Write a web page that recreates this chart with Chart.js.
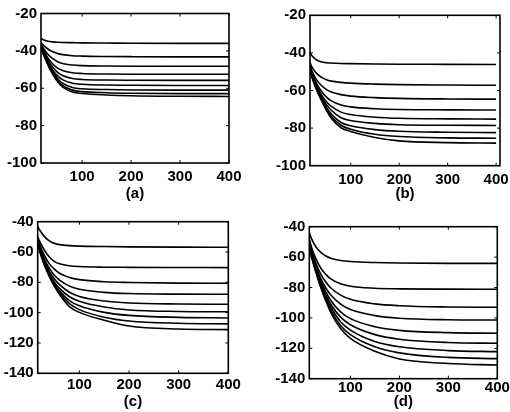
<!DOCTYPE html>
<html>
<head>
<meta charset="utf-8">
<script src="https://cdn.jsdelivr.net/npm/chart.js@4.4.0/dist/chart.umd.min.js"></script>
<style>
    html, body { margin: 0; padding: 0; background: #fff; }
    #wrap { position: relative; width: 510px; height: 412px; overflow: hidden; }
    canvas { position: absolute; }
</style>
</head>
<body>
<div id="wrap">
    <canvas id="chartA" width="255" height="206" style="left:0;top:0"></canvas>
    <canvas id="chartB" width="255" height="206" style="left:255px;top:0"></canvas>
    <canvas id="chartC" width="255" height="206" style="left:0;top:206px"></canvas>
    <canvas id="chartD" width="255" height="206" style="left:255px;top:206px"></canvas>
</div>
<script>
const xValues = [16, 20, 30, 40, 50, 60, 80, 100, 150, 200, 300, 400];
const xTicks = [100, 200, 300, 400];
const yTicksTop = [-100, -80, -60, -40, -20];
const yTicksBottom = [-140, -120, -100, -80, -60, -40];
const panelNames = ['(a)', '(b)', '(c)', '(d)'];

// panel (a)
const curvesA = [
    [-33.3, -33.9, -34.8, -35.2, -35.4, -35.5, -35.6, -35.7, -35.8, -35.9, -36.0, -36.0],
    [-35.5, -36.8, -39.0, -40.5, -41.4, -42.0, -42.6, -42.8, -43.0, -43.1, -43.2, -43.2],
    [-36.5, -38.3, -41.8, -44.2, -45.8, -46.8, -47.6, -47.9, -48.1, -48.2, -48.2, -48.2],
    [-37.0, -39.2, -43.8, -47.0, -49.2, -50.5, -51.7, -52.1, -52.4, -52.5, -52.5, -52.5],
    [-37.5, -39.8, -45.0, -48.8, -51.5, -53.2, -54.8, -55.3, -55.6, -55.7, -55.8, -55.8],
    [-38.0, -40.4, -46.0, -50.3, -53.4, -55.4, -57.3, -57.9, -58.3, -58.4, -58.5, -58.5],
    [-38.0, -40.6, -46.6, -51.3, -54.9, -57.3, -59.6, -60.3, -60.7, -60.9, -61.0, -61.0],
    [-38.5, -41.0, -47.1, -52.0, -55.8, -58.5, -61.0, -61.8, -62.4, -62.7, -62.9, -62.9],
    [-38.5, -41.2, -47.5, -52.5, -56.5, -59.3, -62.0, -62.8, -63.6, -64.0, -64.3, -64.4]
];

// panel (b)
const curvesB = [
    [-39.9, -41.5, -43.8, -44.8, -45.2, -45.4, -45.6, -45.7, -45.9, -46.0, -46.1, -46.2],
    [-45.0, -47.5, -51.0, -53.0, -54.3, -55.0, -55.7, -56.1, -56.6, -56.9, -57.1, -57.2],
    [-46.5, -49.5, -54.5, -57.5, -59.5, -60.8, -62.2, -63.0, -63.8, -64.2, -64.5, -64.6],
    [-47.0, -50.5, -56.5, -60.5, -63.5, -65.5, -67.7, -68.7, -69.7, -70.1, -70.3, -70.4],
    [-47.5, -51.0, -57.5, -62.5, -66.0, -68.5, -71.5, -72.8, -74.2, -74.8, -75.1, -75.2],
    [-48.0, -51.8, -58.5, -63.5, -67.5, -70.5, -74.5, -76.0, -77.5, -78.2, -78.5, -78.6],
    [-48.5, -52.3, -59.0, -64.5, -69.0, -72.5, -77.0, -78.8, -80.8, -81.7, -82.2, -82.4],
    [-48.5, -52.5, -59.5, -65.0, -70.0, -73.8, -78.5, -80.6, -83.3, -84.5, -85.2, -85.4],
    [-49.0, -53.0, -60.0, -65.5, -70.5, -74.8, -79.8, -81.8, -85.0, -86.8, -87.7, -88.0]
];

// panel (c)
const curvesC = [
    [-43.0, -45.5, -50.0, -52.8, -54.3, -55.1, -55.8, -56.1, -56.4, -56.6, -56.8, -56.9],
    [-50.0, -53.0, -59.0, -63.5, -66.3, -67.8, -69.1, -69.6, -70.0, -70.1, -70.2, -70.3],
    [-51.0, -55.0, -62.5, -68.0, -71.5, -74.0, -76.8, -78.2, -79.6, -80.1, -80.5, -80.6],
    [-52.0, -56.5, -65.0, -71.0, -75.5, -78.5, -82.5, -84.5, -86.6, -87.4, -87.8, -87.9],
    [-52.5, -57.5, -66.5, -73.0, -78.0, -81.5, -86.5, -89.3, -92.3, -93.6, -94.3, -94.5],
    [-53.0, -58.0, -67.5, -74.5, -80.0, -84.0, -89.5, -92.5, -96.3, -98.2, -99.2, -99.4],
    [-53.5, -58.5, -68.0, -75.5, -81.2, -85.8, -92.0, -95.5, -99.8, -101.8, -103.1, -103.5],
    [-53.5, -59.0, -68.5, -76.0, -82.0, -87.0, -94.0, -98.0, -103.0, -105.5, -107.0, -107.4],
    [-54.0, -59.5, -69.0, -76.5, -82.8, -88.0, -96.0, -99.8, -105.0, -108.8, -110.8, -111.2]
];

// panel (d)
const curvesD = [
    [-44.0, -47.5, -53.5, -57.0, -59.3, -60.7, -62.2, -62.9, -63.6, -63.9, -64.1, -64.1],
    [-48.0, -53.0, -61.5, -67.5, -71.5, -74.3, -77.6, -79.2, -80.5, -80.9, -81.1, -81.2],
    [-49.0, -54.5, -64.5, -71.5, -76.5, -80.3, -85.0, -87.8, -90.8, -92.0, -92.8, -93.0],
    [-50.0, -56.0, -66.5, -74.5, -80.5, -85.0, -91.0, -94.5, -98.5, -100.2, -101.2, -101.4],
    [-50.5, -57.0, -68.0, -76.5, -83.0, -88.5, -96.0, -100.5, -105.8, -108.2, -109.7, -110.1],
    [-51.0, -57.5, -69.0, -78.0, -85.0, -91.0, -99.5, -104.5, -111.0, -114.0, -116.2, -116.7],
    [-51.5, -58.0, -69.5, -79.0, -86.5, -93.0, -102.5, -108.0, -115.5, -119.0, -121.5, -122.2],
    [-52.0, -58.5, -70.0, -80.0, -88.0, -95.0, -105.0, -111.0, -119.0, -123.0, -126.0, -126.8],
    [-52.5, -59.0, -70.5, -80.5, -89.0, -96.5, -107.0, -113.5, -122.0, -127.0, -130.0, -131.0]
];

const fontSpec = { family: "'Liberation Sans', Arial, sans-serif", size: 15, weight: 'bold' };

// box around the plot plus small inward ticks on every side
const frameAndTicks = {
    id: 'frameAndTicks',
    afterDatasetsDraw(chart) {
        const { ctx, chartArea: a, scales: { x, y } } = chart;
        ctx.save();
        ctx.strokeStyle = '#000';
        ctx.lineWidth = 1;
        ctx.beginPath();
        x.ticks.forEach((t) => {
            const px = x.getPixelForValue(t.value);
            ctx.moveTo(px, a.bottom); ctx.lineTo(px, a.bottom - 3);
            ctx.moveTo(px, a.top); ctx.lineTo(px, a.top + 3);
        });
        y.ticks.forEach((t) => {
            const py = y.getPixelForValue(t.value);
            ctx.moveTo(a.left, py); ctx.lineTo(a.left + 3, py);
            ctx.moveTo(a.right, py); ctx.lineTo(a.right - 3, py);
        });
        ctx.stroke();
        ctx.lineWidth = 1.6;
        ctx.strokeRect(a.left, a.top, a.right - a.left, a.bottom - a.top);
        ctx.restore();
    }
};

// box: left axis width, top padding, right padding, bottom axis height
function makePanel(canvasId, curves, yTicks, name, xMax, box) {
    const ctx = document.getElementById(canvasId).getContext('2d');
    new Chart(ctx, {
        type: 'line',
        data: {
            datasets: curves.map((c) => ({
                data: xValues.map((xv, i) => ({ x: xv, y: c[i] })),
                borderColor: '#000',
                borderWidth: 1.6,
                pointRadius: 0,
                cubicInterpolationMode: 'monotone',
                fill: false
            }))
        },
        options: {
            responsive: false,
            devicePixelRatio: 1,
            animation: false,
            layout: { padding: { left: 0, top: box.top, right: box.right, bottom: 0 } },
            plugins: { legend: { display: false }, tooltip: { enabled: false } },
            scales: {
                x: {
                    type: 'linear',
                    min: 16,
                    max: xMax,
                    grid: { display: false, drawTicks: false },
                    border: { display: false },
                    ticks: { color: '#000', font: fontSpec, padding: box.labelGap, maxRotation: 0 },
                    afterBuildTicks: (scale) => { scale.ticks = xTicks.map((v) => ({ value: v })); },
                    afterFit: (scale) => {
                        scale.height = box.bottom;
                        scale.paddingLeft = 0;
                        scale.paddingRight = 0;
                    },
                    title: { display: true, text: name, color: '#000', font: fontSpec, padding: { top: 0, bottom: box.titlePad } }
                },
                y: {
                    min: yTicks[0],
                    max: yTicks[yTicks.length - 1],
                    grid: { display: false, drawTicks: false },
                    border: { display: false },
                    ticks: { color: '#000', font: fontSpec, padding: 4 },
                    afterBuildTicks: (scale) => { scale.ticks = yTicks.map((v) => ({ value: v })); },
                    afterFit: (scale) => {
                        scale.width = box.left;
                        scale.paddingTop = 0;
                        scale.paddingBottom = 0;
                    }
                }
            }
        },
        plugins: [frameAndTicks]
    });
}

window.addEventListener('DOMContentLoaded', () => {
    makePanel('chartA', curvesA, yTicksTop, panelNames[0], 400, { left: 41, top: 13.5, right: 26, bottom: 43, labelGap: 5, titlePad: 3.5 });
    makePanel('chartB', curvesB, yTicksTop, panelNames[1], 408, { left: 55, top: 15.3, right: 10, bottom: 40.3, labelGap: 5, titlePad: 3 });
    makePanel('chartC', curvesC, yTicksBottom, panelNames[2], 400, { left: 37.7, top: 15.7, right: 26.7, bottom: 38.7, labelGap: 3, titlePad: 1.5 });
    makePanel('chartD', curvesD, yTicksBottom, panelNames[3], 400, { left: 54.3, top: 20.7, right: 12.7, bottom: 33.3, labelGap: 0, titlePad: 1 });
});
</script>
</body>
</html>
